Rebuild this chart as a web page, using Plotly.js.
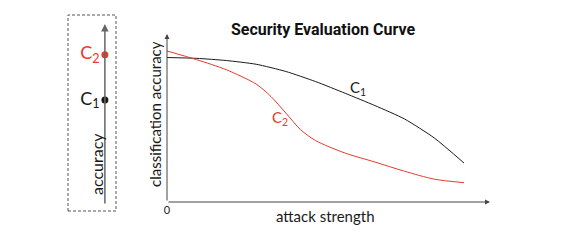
<!DOCTYPE html>
<html><head><meta charset="utf-8">
<script src="https://cdn.plot.ly/plotly-3.0.1.min.js"></script>
<style>html,body{margin:0;padding:0;background:#fff}#chart{width:567px;height:240px}</style>
</head><body><div id="chart"></div>
<script>
// attack strength (arbitrary units) and classification accuracy
const attackStrengthC1 = [0, 1, 2, 3, 4, 5, 6, 7, 8, 9, 10];
const accuracyC1       = [0.860, 0.855, 0.842, 0.820, 0.777, 0.717, 0.647, 0.574, 0.494, 0.381, 0.232];
const attackStrengthC2 = [0, 1, 2, 3, 3.5, 4, 4.5, 5, 6, 7, 8, 9, 10];
const accuracyC2       = [0.899, 0.847, 0.787, 0.702, 0.628, 0.530, 0.430, 0.366, 0.291, 0.238, 0.183, 0.136, 0.115];
// left panel: accuracy of each classifier without attack
const panelNames     = ['C<sub>1</sub>', 'C<sub>2</sub>'];
const panelAccuracy  = [0.58, 0.83];
const xTickVals = [0];
const xTickText = ['0'];

const BLACK = '#1a1a1a', RED = '#e8392c', GRAY = '#444';
const FONT = 'Lato, "Noto Sans", sans-serif';

const traces = [
  {x: attackStrengthC1, y: accuracyC1, mode: 'lines', line: {color: BLACK, width: 1, shape: 'spline', smoothing: 0.6}, xaxis: 'x', yaxis: 'y', hoverinfo: 'skip'},
  {x: attackStrengthC2, y: accuracyC2, mode: 'lines', line: {color: RED, width: 1, shape: 'spline', smoothing: 0.8}, xaxis: 'x', yaxis: 'y', hoverinfo: 'skip'},
  {x: [0.5, 0.5], y: panelAccuracy, mode: 'markers+text', text: panelNames, textposition: 'middle left',
   textfont: {family: FONT, size: 18, color: [BLACK, RED]},
   marker: {size: 7, color: [BLACK, RED]}, xaxis: 'x2', yaxis: 'y2', hoverinfo: 'skip', cliponaxis: false}
];

const layout = {
  width: 567, height: 240,
  margin: {l: 0, r: 0, t: 0, b: 0},
  paper_bgcolor: '#fff', plot_bgcolor: 'rgba(0,0,0,0)',
  showlegend: false,
  font: {family: FONT, color: BLACK},
  title: {text: '<b>Security Evaluation Curve</b>', x: 323/567, y: 1 - 29/240, xref: 'paper', yref: 'paper',
          xanchor: 'center', yanchor: 'middle', font: {family: 'Roboto, sans-serif', size: 16, color: '#111'}},
  xaxis: {domain: [167/567, 490/567], range: [0, 10.875], showgrid: false, zeroline: false, showline: false,
          tickvals: xTickVals, ticktext: xTickText, ticks: '', tickfont: {size: 11, color: BLACK}, fixedrange: true},
  yaxis: {domain: [38/240, 206/240], range: [0, 1], showgrid: false, zeroline: false, showline: false,
          showticklabels: false, ticks: '', fixedrange: true},
  xaxis2: {domain: [0.17, 0.2], range: [0, 1], visible: false, fixedrange: true},
  yaxis2: {domain: [35/240, 216/240], range: [0, 1], visible: false, fixedrange: true, anchor: 'x2'},
  shapes: [
    {type: 'rect', xref: 'paper', yref: 'paper', x0: 68/567, x1: 116/567, y0: 1 - 211/240, y1: 1 - 15/240,
     line: {color: '#555', width: 1, dash: '3px,2px'}, fillcolor: 'rgba(0,0,0,0)'}
  ],
  annotations: [
    // main axes arrows
    {xref: 'x', yref: 'y', axref: 'x', ayref: 'y', x: 10.875, y: 0, ax: 0, ay: 0, text: '', showarrow: true,
     arrowhead: 2, arrowsize: 1, arrowwidth: 1, arrowcolor: GRAY, standoff: 0},
    {xref: 'x', yref: 'y', axref: 'x', ayref: 'y', x: 0, y: 1, ax: 0, ay: 0, text: '', showarrow: true,
     arrowhead: 2, arrowsize: 1, arrowwidth: 1, arrowcolor: GRAY, standoff: 0},
    // left panel arrow
    {xref: 'x2', yref: 'y2', axref: 'x2', ayref: 'y2', x: 0.5, y: 1, ax: 0.5, ay: 0, text: '', showarrow: true,
     arrowhead: 2, arrowsize: 1, arrowwidth: 1.5, arrowcolor: '#666', standoff: 0},
    {xref: 'paper', yref: 'paper', x: 96/567, y: 1 - 164/240, xanchor: 'center', yanchor: 'middle',
     text: 'accuracy', textangle: -90, showarrow: false, font: {family: FONT, size: 16, color: BLACK}},
    // axis titles
    {xref: 'paper', yref: 'paper', x: 155/567, y: 1 - 114/240, xanchor: 'center', yanchor: 'middle',
     text: 'classification accuracy', textangle: -90, showarrow: false, font: {family: FONT, size: 15, color: BLACK}},
    {xref: 'paper', yref: 'paper', x: 325/567, y: 1 - 216/240, xanchor: 'center', yanchor: 'middle',
     text: 'attack strength', showarrow: false, font: {family: FONT, size: 15, color: BLACK}},
    // curve labels
    {xref: 'x', yref: 'y', x: 6.43, y: 0.679, xanchor: 'center', yanchor: 'middle', text: 'C<sub>1</sub>',
     showarrow: false, font: {family: FONT, size: 15, color: BLACK}},
    {xref: 'x', yref: 'y', x: 3.80, y: 0.50, xanchor: 'center', yanchor: 'middle', text: 'C<sub>2</sub>',
     showarrow: false, font: {family: FONT, size: 15, color: RED}}
  ]
};

Plotly.newPlot('chart', traces, layout, {staticPlot: true, displayModeBar: false});
</script>
</body></html>
